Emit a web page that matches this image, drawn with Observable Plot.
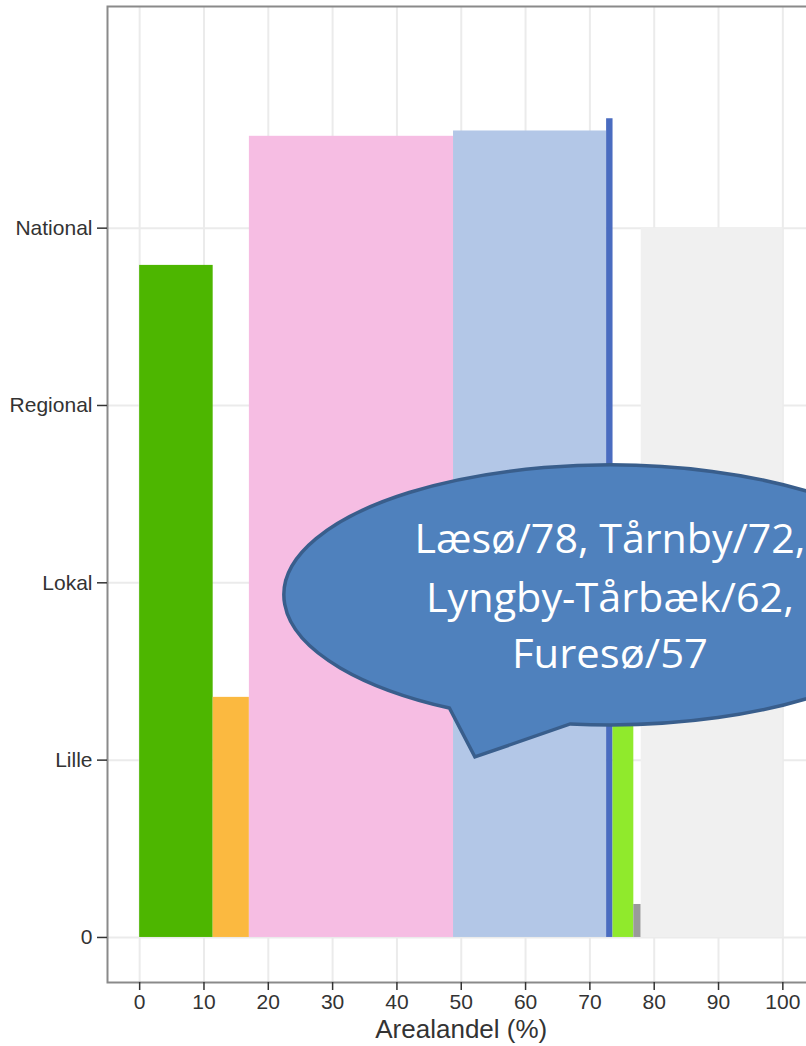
<!DOCTYPE html>
<html><head><meta charset="utf-8">
<script src="https://cdn.jsdelivr.net/npm/d3@7"></script>
<script src="https://cdn.jsdelivr.net/npm/@observablehq/plot@0.6"></script>
<style>
html,body{margin:0;padding:0;background:#fff;overflow:hidden;width:806px;height:1046px}
#chart{width:806px;height:1046px;overflow:hidden}
#chart svg{display:block;max-width:none !important;width:830px;height:1046px}
</style></head><body><div id="chart"></div>
<script>
// Data
const classLabels = ["0", "Lille", "Lokal", "Regional", "National"];
const classValues = [0, 1, 2, 3, 4];
const xTicks = [0, 10, 20, 30, 40, 50, 60, 70, 80, 90, 100];
const barStart = [0, 11.43, 17.06, 48.8, 72.6, 73.6, 76.83, 77.98];
const barEnd   = [11.43, 17.06, 48.8, 72.6, 73.6, 76.83, 77.98, 100];
const barValue = [3.79, 1.354, 4.518, 4.548, 4.617, 2.3, 0.186, 4.0];
const barColor = ["#4db600", "#fbb940", "#f6bde3", "#b3c7e7", "#4a6cc0", "#90ea2c", "#9a9a9a", "#f0f0f0"];
const calloutLines = ["Læsø/78, Tårnby/72,", "Lyngby-Tårbæk/62,", "Furesø/57"];
const xTitle = "Arealandel (%)";

const bars = barStart.map((s, i) => ({x1: s, x2: barEnd[i], v: barValue[i], color: barColor[i]}));

// Speech-bubble annotation drawn in data coordinates
function callout(index, scales) {
  const sx = scales.x, sy = scales.y;
  const cx = sx(73.2), cy = sy(1.929);
  const rx = sx(73.2 + 50.7) - cx, ry = cy - sy(1.929 + 0.733);
  const a1 = 119.5 * Math.PI / 180, a2 = 97 * Math.PI / 180;
  const p1 = [cx + rx * Math.cos(a1), cy + ry * Math.sin(a1)];
  const p2 = [cx + rx * Math.cos(a2), cy + ry * Math.sin(a2)];
  const tip = [sx(52.2), sy(1.015)];
  const g = d3.create("svg:g");
  g.append("path")
    .attr("d", `M${p1[0]},${p1[1]}A${rx},${ry} 0 1 1 ${p2[0]},${p2[1]}L${tip[0]},${tip[1]}Z`)
    .attr("fill", "#4f81bd")
    .attr("stroke", "#395e8c")
    .attr("stroke-width", 3.5)
    .attr("stroke-linejoin", "miter");
  const baselines = [2.166, 1.833, 1.517];
  const widths = [391, 368, 196];
  calloutLines.forEach((t, i) => {
    g.append("text")
      .attr("x", sx(73.2))
      .attr("y", sy(baselines[i]))
      .attr("text-anchor", "middle")
      .attr("fill", "white")
      .attr("font-family", "'Open Sans', sans-serif")
      .attr("font-size", 41)
      .attr("textLength", widths[i])
      .attr("lengthAdjust", "spacingAndGlyphs")
      .text(t);
  });
  return g.node();
}

const chart = Plot.plot({
  width: 830,
  height: 1046,
  marginLeft: 107,
  marginRight: 15.5,
  marginTop: 6,
  marginBottom: 64,
  style: {fontFamily: "'Liberation Sans', Arial, sans-serif", background: "white", color: "#333", maxWidth: "none"},
  x: {domain: [-5, 105]},
  y: {domain: [-0.254, 5.25]},
  color: {type: "identity"},
  marks: [
    Plot.gridX(xTicks, {stroke: "#ebebeb", strokeOpacity: 1, strokeWidth: 2}),
    Plot.gridY(classValues, {stroke: "#ebebeb", strokeOpacity: 1, strokeWidth: 2}),
    Plot.rect(bars, {x1: "x1", x2: "x2", y1: 0, y2: "v", fill: "color"}),
    callout,
    Plot.frame({stroke: "#8a8a8a", strokeWidth: 2}),
    Plot.axisX(xTicks, {tickSize: 8, tickPadding: 4, fontSize: 21, label: null, stroke: "#333", strokeWidth: 1.5, fill: "#333"}),
    Plot.axisY(classValues, {tickSize: 10, tickPadding: 5, fontSize: 21, label: null, stroke: "#333", strokeWidth: 1.5, fill: "#333",
      tickFormat: d => classLabels[classValues.indexOf(d)]}),
    Plot.text([xTitle], {frameAnchor: "bottom", lineAnchor: "middle", dy: 47, fontSize: 26, fill: "#333"})
  ]
});
document.getElementById("chart").append(chart);
</script>
</body></html>
